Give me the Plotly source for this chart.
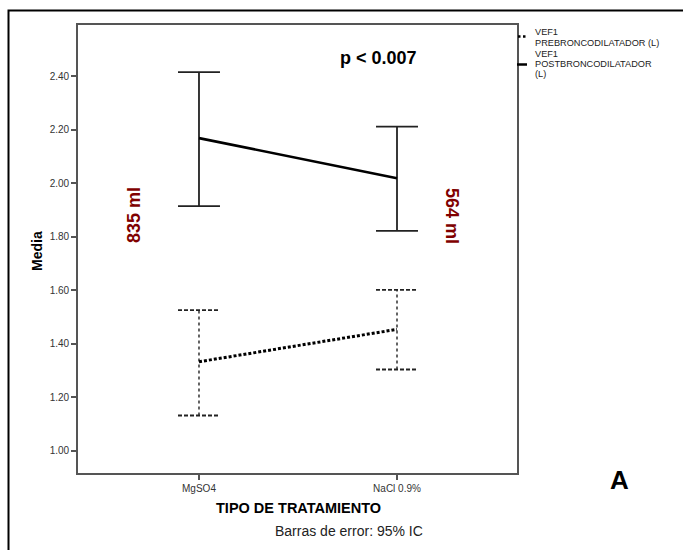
import plotly.graph_objects as go

# Treatment groups
categorias = ["MgSO4", "NaCl 0.9%"]

# FEV1 (L): means and 95% CI limits per group
post_media = [2.169, 2.019]
post_inf = [1.915, 1.822]
post_sup = [2.416, 2.212]

pre_media = [1.333, 1.454]
pre_inf = [1.132, 1.304]
pre_sup = [1.526, 1.602]

y_ticks = [1.00, 1.20, 1.40, 1.60, 1.80, 2.00, 2.20, 2.40]

W, H = 683, 550
L, R, T, B = 78, 166, 25, 77
PW, PH = W - L - R, H - T - B

def px(x):
    return (x - L) / PW

def py(y):
    return (H - B - y) / PH

BOLD = "Liberation Sans, Arial, sans-serif"
SANS = "Liberation Sans, Arial, sans-serif"
CAP = 0.106  # half-width of error-bar caps, in category units

xs = list(range(len(categorias)))


def segmentos_barra(lo, hi):
    vx, vy, cx, cy = [], [], [], []
    for i, (a, b) in enumerate(zip(lo, hi)):
        vx += [i, i, None]
        vy += [a, b, None]
        for v in (a, b):
            cx += [i - CAP, i + CAP, None]
            cy += [v, v, None]
    return vx, vy, cx, cy


fig = go.Figure()

# Post-bronchodilator: solid error bars and mean line
vx, vy, cx, cy = segmentos_barra(post_inf, post_sup)
fig.add_trace(go.Scatter(x=vx, y=vy, mode="lines", line=dict(color="#222", width=1.8),
                         hoverinfo="skip", showlegend=False))
fig.add_trace(go.Scatter(x=cx, y=cy, mode="lines", line=dict(color="#222", width=1.8),
                         hoverinfo="skip", showlegend=False))
fig.add_trace(go.Scatter(x=xs, y=post_media, mode="lines", line=dict(color="black", width=2.6),
                         name="VEF1 POSTBRONCODILATADOR (L)", showlegend=False))

# Pre-bronchodilator: dotted bars, dashed caps, dotted mean line
vx, vy, cx, cy = segmentos_barra(pre_inf, pre_sup)
fig.add_trace(go.Scatter(x=vx, y=vy, mode="lines", line=dict(color="#222", width=1.4, dash="dot"),
                         hoverinfo="skip", showlegend=False))
fig.add_trace(go.Scatter(x=cx, y=cy, mode="lines", line=dict(color="#222", width=1.8, dash="4px,2px"),
                         hoverinfo="skip", showlegend=False))
fig.add_trace(go.Scatter(x=xs, y=pre_media, mode="lines", line=dict(color="black", width=3, dash="3px,2px"),
                         name="VEF1 PREBRONCODILATADOR (L)", showlegend=False))


def nota(text, x, y, family, size, color="black", angle=0, xanchor="center"):
    return dict(text=text, x=px(x), y=py(y), xref="paper", yref="paper",
                textangle=angle, font=dict(family=family, size=size, color=color),
                showarrow=False, xanchor=xanchor, yanchor="middle")


annotations = [
    nota("<b>p < 0.007</b>", 378, 58, BOLD, 18),
    nota("<b>835 ml</b>", 134, 215, BOLD, 18, "#800000", -90),
    nota("<b>564 ml</b>", 452, 216, BOLD, 18, "#800000", 90),
    nota("<b>Media</b>", 37, 251, BOLD, 14, angle=-90),
    nota("<b>TIPO DE TRATAMIENTO</b>", 298, 508, BOLD, 14.5),
    nota("Barras de error: 95% IC", 349, 531, SANS, 14, "#222"),
    nota("<b>A</b>", 619, 480, BOLD, 26),
]

# Legend entries
leyenda = [("VEF1", 32.5), ("PREBRONCODILATADOR (L)", 42.5),
           ("VEF1", 54), ("POSTBRONCODILATADOR", 64), ("(L)", 73.5)]
for txt, yy in leyenda:
    annotations.append(nota(txt, 533, yy, SANS, 9.2, "#222", xanchor="left"))

shapes = [
    # outer frame
    dict(type="path", xref="paper", yref="paper",
         path=f"M {px(8.5)} {py(600)} L {px(8.5)} {py(10.5)} L {px(720)} {py(10.5)}",
         line=dict(color="black", width=2)),
    # legend symbols
    dict(type="line", xref="paper", yref="paper", x0=px(518), x1=px(525.5), y0=py(36.5), y1=py(36.5),
         line=dict(color="black", width=2.5, dash="2.5px,2.5px")),
    dict(type="line", xref="paper", yref="paper", x0=px(517), x1=px(527), y0=py(64.5), y1=py(64.5),
         line=dict(color="black", width=2.5)),
]

fig.update_layout(
    width=W, height=H,
    margin=dict(l=L, r=R, t=T, b=B, autoexpand=False),
    paper_bgcolor="white", plot_bgcolor="white",
    showlegend=False,
    annotations=annotations,
    shapes=shapes,
    xaxis=dict(range=[-0.611, 1.606], tickvals=xs, ticktext=categorias,
               showgrid=False, zeroline=False, showline=True, mirror=True,
               linecolor="#555", linewidth=1.6, ticks="outside", ticklen=5, tickwidth=1.5,
               tickcolor="#555", tickfont=dict(family=SANS, size=10, color="#333")),
    yaxis=dict(range=[0.917, 2.592], tickvals=y_ticks, ticktext=[f"{v:.2f}" for v in y_ticks],
               showgrid=False, zeroline=False, showline=True, mirror=True,
               linecolor="#555", linewidth=1.6, ticks="outside", ticklen=5, tickwidth=1.5,
               tickcolor="#555", tickfont=dict(family=SANS, size=10, color="#333")),
)

fig.write_html("out.html")
